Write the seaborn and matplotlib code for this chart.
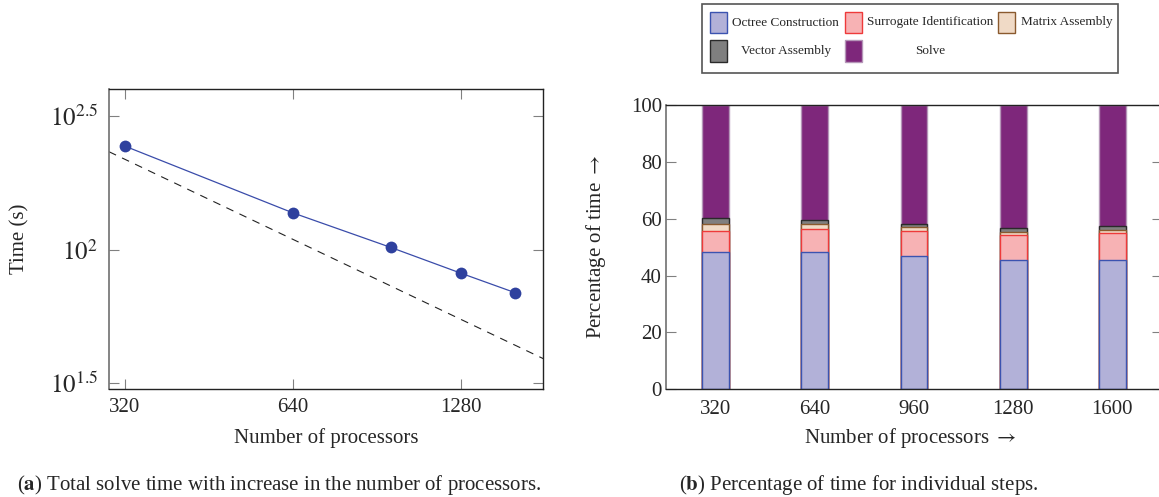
import numpy as np
import pandas as pd
import matplotlib
matplotlib.use("Agg")
import matplotlib.pyplot as plt
import seaborn as sns
from matplotlib.patches import Rectangle
from matplotlib.ticker import FixedLocator, FixedFormatter, NullLocator

# ---------------- data ----------------
procs = [320, 640, 960, 1280, 1600]
total_time = [244.2, 137.4, 101.9, 81.7, 69.1]
ideal_procs = [300, 1800]
ideal_time = [232.5, 39.1]
left_xticks = [320, 640, 1280]
left_yticks = [10 ** 1.5, 10 ** 2, 10 ** 2.5]
left_yticklabels = [r"$10^{1.5}$", r"$10^{2}$", r"$10^{2.5}$"]

steps = ["Octree Construction", "Surrogate Identification", "Matrix Assembly",
         "Vector Assembly", "Solve"]
octree = [48.4, 48.2, 47.0, 45.4, 45.5]
surrogate = [7.4, 8.3, 8.6, 8.9, 9.4]
matrix = [2.2, 1.5, 1.4, 1.1, 1.2]
vector = [2.4, 1.7, 1.3, 1.4, 1.2]
solve = [39.6, 40.3, 41.7, 43.2, 42.7]
right_yticks = [0, 20, 40, 60, 80, 100]

fills = ["#b2b1d8", "#f7b2b4", "#f0dac6", "#7f7f7f", "#7e277b"]
edges = ["#3b53b0", "#ee3a3a", "#8a5a2e", "#2a2a2a", "#b596b8"]

# ---------------- style ----------------
sns.set_style("ticks")
plt.rcParams["font.family"] = ["Liberation Serif", "DejaVu Serif"]
plt.rcParams["mathtext.fontset"] = "stix"

W, H = 1159, 497
fig = plt.figure(figsize=(W / 100, H / 100), dpi=100)

FS = 15

# ---------------- left: total time ----------------
ax1 = fig.add_axes([109 / W, 1 - 389.3 / H, 434.3 / W, 300 / H])
ax1.set_xscale("log", base=2)
ax1.set_yscale("log")
sns.lineplot(x=ideal_procs, y=ideal_time, ax=ax1, color="#222222",
             linestyle=(0, (7, 6)), linewidth=0.8)
sns.lineplot(x=procs, y=total_time, ax=ax1, color="#3a4caa", linewidth=0.9,
             marker="o", markersize=8.5, markeredgewidth=0,
             markerfacecolor="#2f419e")
ax1.set_xlim(300, 1800)
ax1.set_ylim(10 ** 1.4775, 10 ** 2.6)
ax1.xaxis.set_major_locator(FixedLocator(left_xticks))
ax1.xaxis.set_major_formatter(FixedFormatter([str(t) for t in left_xticks]))
ax1.xaxis.set_minor_locator(NullLocator())
ax1.yaxis.set_major_locator(FixedLocator(left_yticks))
ax1.yaxis.set_major_formatter(FixedFormatter(left_yticklabels))
ax1.yaxis.set_minor_locator(NullLocator())
ax1.tick_params(direction="in", top=True, right=True, length=7.5, width=0.8,
                color="#808080")
ax1.tick_params(axis="y", labelsize=18, pad=8)
ax1.tick_params(axis="x", labelsize=FS, pad=6)
ax1.set_xlabel("Number of processors", fontsize=FS)
ax1.set_ylabel("Time (s)", fontsize=FS)
ax1.xaxis.set_label_coords(0.5, (389.3 - 438) / 300)
ax1.xaxis.label.set_va("center")
ax1.yaxis.set_label_coords((20 - 109) / 434.3, 0.5)
ax1.yaxis.label.set_va("center")

# ---------------- right: stacked percentages ----------------
ax2 = fig.add_axes([666 / W, 1 - 389.3 / H, 496 / W, 284.3 / H])
labels = [str(p) for p in procs]
layers = [octree, surrogate, matrix, vector, solve]
cums = np.cumsum(np.array(layers), axis=0)
for i in range(len(layers) - 1, -1, -1):
    sns.barplot(x=labels, y=cums[i], ax=ax2, color=fills[i], edgecolor=edges[i],
                linewidth=1.0, width=0.27, saturation=1, errorbar=None)
ax2.set_xlim(-0.5, 4.5)
ax2.set_ylim(0, 100)
ax2.set_yticks(right_yticks)
ax2.tick_params(axis="y", direction="in", left=True, right=True, length=7.5,
                width=0.8, color="#808080", labelsize=FS, pad=3)
ax2.tick_params(axis="x", length=0, labelsize=FS, pad=8)
ax2.set_xlabel(r"Number of processors $\rightarrow$", fontsize=FS)
ax2.set_ylabel(r"Percentage of time $\rightarrow$", fontsize=FS)
ax2.xaxis.set_label_coords((910 - 666) / 496, (389.3 - 438) / 284.3)
ax2.xaxis.label.set_va("center")
ax2.yaxis.set_label_coords((595.5 - 666) / 496, 0.5)
ax2.yaxis.label.set_va("center")

for ax in (ax1, ax2):
    for side in ("top", "right", "bottom"):
        ax.spines[side].set_visible(True)
        ax.spines[side].set_color("#222222")
        ax.spines[side].set_linewidth(1.0)
    ax.spines["left"].set_color("#6f6f6f")
    ax.spines["left"].set_linewidth(1.2)
    for sp in ax.spines.values():
        sp.set_zorder(5)

# ---------------- legend (drawn in pixel coordinates) ----------------
lax = fig.add_axes([0, 0, 1, 1], facecolor="none")
lax.set_xlim(0, W)
lax.set_ylim(H, 0)
lax.axis("off")
lax.add_patch(Rectangle((701.7, 4), 416.3, 68.7, fill=False, edgecolor="#555555",
                        linewidth=1.2))
patch_x = [710, 845, 998.3]
text_left = [732, 867, 1021]
text_center = [785.7, 929.9, 1066.8]
row_top = [11.7, 40]
row_mid = [22.5, 51]
LFS = 9.5
for k, name in enumerate(steps):
    r, c = divmod(k, 3)
    lax.add_patch(Rectangle((patch_x[c], row_top[r]), 16.7, 21.7,
                            facecolor=fills[k], edgecolor=edges[k], linewidth=1.0))
    if r == 0:
        lax.text(text_left[c], row_mid[r], name, ha="left", va="center", fontsize=LFS)
    else:
        lax.text(text_center[c], row_mid[r], name, ha="center", va="center", fontsize=LFS)

# ---------------- captions ----------------
fig.text(279 / W, 1 - 485 / H,
         r"($\mathbf{a}$) Total solve time with increase in the number of processors.",
         ha="center", va="center", fontsize=FS)
fig.text(859 / W, 1 - 485 / H,
         r"($\mathbf{b}$) Percentage of time for individual steps.",
         ha="center", va="center", fontsize=FS)

fig.savefig("out.png", dpi=100)
